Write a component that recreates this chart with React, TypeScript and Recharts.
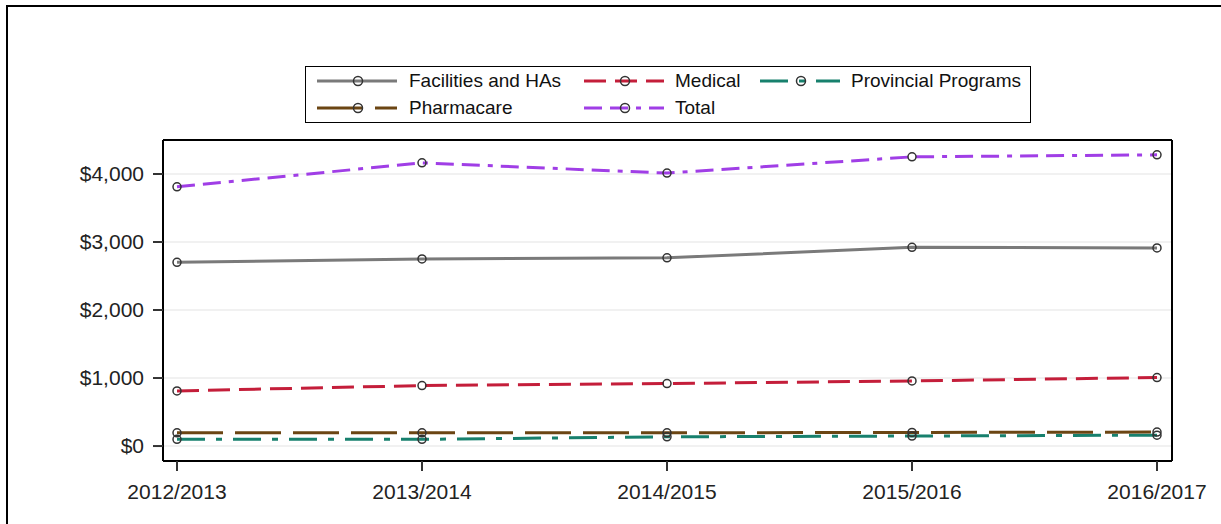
import React from 'react';
import { LineChart, Line, XAxis, YAxis, CartesianGrid } from 'recharts';

const categories = ['2012/2013', '2013/2014', '2014/2015', '2015/2016', '2016/2017'];
const facilities = [2702, 2752, 2767, 2922, 2913];
const medical = [811, 889, 919, 957, 1007];
const provincial = [98, 98, 136, 147, 160];
const pharmacare = [195, 195, 195, 200, 205];
const total = [3812, 4164, 4013, 4252, 4282];
const yTicks = [0, 1000, 2000, 3000, 4000];

const data = categories.map((year, i) => ({
  year,
  facilities: facilities[i],
  medical: medical[i],
  provincial: provincial[i],
  pharmacare: pharmacare[i],
  total: total[i],
}));

type S = { key: string; name: string; color: string; dash?: string; row: number; col: number };
const series: S[] = [
  { key: 'facilities', name: 'Facilities and HAs', color: '#7a7a7a', row: 0, col: 0 },
  { key: 'medical', name: 'Medical', color: '#c41e3a', dash: '22 9', row: 0, col: 1 },
  { key: 'provincial', name: 'Provincial Programs', color: '#17806d', dash: '28 11 6 11', row: 0, col: 2 },
  { key: 'pharmacare', name: 'Pharmacare', color: '#6b4513', dash: '46 12', row: 1, col: 0 },
  { key: 'total', name: 'Total', color: '#a03ee6', dash: '18 8 18 8 5 8', row: 1, col: 1 },
];

const FONT = '"Liberation Sans", Arial, sans-serif';
const colSym = [11, 278, 454];
const colText = [103, 369, 545];
const rowY = [14, 41];

function LegendBox() {
  return (
    <div
      style={{
        position: 'absolute',
        left: 305,
        top: 66,
        width: 724,
        height: 55,
        border: '1.5px solid #000',
        background: '#fff',
        fontFamily: FONT,
        fontSize: 19,
        color: '#111',
      }}
    >
      {series.map((s) => (
        <React.Fragment key={s.key}>
          <svg
            width={80}
            height={14}
            style={{ position: 'absolute', left: colSym[s.col], top: rowY[s.row] - 7 }}
          >
            <line x1={0} y1={7} x2={80} y2={7} stroke={s.color} strokeWidth={3} strokeDasharray={s.dash} />
            <circle cx={41} cy={7} r={4.5} fill="none" stroke="#333" strokeWidth={1.5} />
          </svg>
          <span
            style={{
              position: 'absolute',
              left: colText[s.col],
              top: rowY[s.row] - 11,
              lineHeight: '22px',
              whiteSpace: 'nowrap',
            }}
          >
            {s.name}
          </span>
        </React.Fragment>
      ))}
    </div>
  );
}

export default function App() {
  return (
    <div style={{ position: 'absolute', left: 0, top: 0, width: 1221, height: 524, overflow: 'hidden', background: '#fff' }}>
      <div
        style={{
          position: 'absolute',
          left: 6,
          top: 5,
          width: 1400,
          height: 700,
          borderLeft: '2px solid #000',
          borderTop: '2px solid #000',
        }}
      />
      <div style={{ position: 'absolute', left: 0, top: 0 }}>
        <LineChart width={1221} height={524} data={data} margin={{ top: 139, right: 48, left: 0, bottom: 0 }}>
          <CartesianGrid vertical={false} stroke="#ececec" strokeWidth={1.5} />
          <XAxis
            dataKey="year"
            height={63}
            padding={{ left: 14, right: 15 }}
            axisLine={{ stroke: '#000', strokeWidth: 2 }}
            tickLine={{ stroke: '#333', strokeWidth: 2 }}
            tickSize={10}
            tickMargin={13}
            tick={{ fill: '#222', fontSize: 21, fontFamily: FONT }}
            interval={0}
          />
          <XAxis
            xAxisId="top"
            orientation="top"
            dataKey="year"
            height={1}
            tick={false}
            tickLine={false}
            axisLine={{ stroke: '#000', strokeWidth: 2 }}
          />
          <YAxis
            width={163}
            domain={[-220, 4500]}
            ticks={yTicks}
            allowDataOverflow
            axisLine={{ stroke: '#000', strokeWidth: 2 }}
            tickLine={{ stroke: '#333', strokeWidth: 2 }}
            tickSize={10}
            tickMargin={9}
            tick={{ fill: '#222', fontSize: 21, fontFamily: FONT }}
            tickFormatter={(v: number) => '$' + v.toLocaleString('en-US')}
          />
          <YAxis
            yAxisId="right"
            orientation="right"
            width={1}
            domain={[0, 1]}
            tick={false}
            tickLine={false}
            axisLine={{ stroke: '#000', strokeWidth: 2 }}
          />
          {series.map((s) => (
            <Line
              key={s.key}
              dataKey={s.key}
              name={s.name}
              type="linear"
              stroke={s.color}
              strokeWidth={3}
              strokeDasharray={s.dash}
              dot={{ r: 4, stroke: '#333', strokeWidth: 1.5, fill: 'none', strokeDasharray: 'none' }}
              activeDot={false}
              isAnimationActive={false}
            />
          ))}
        </LineChart>
      </div>
      <LegendBox />
    </div>
  );
}
